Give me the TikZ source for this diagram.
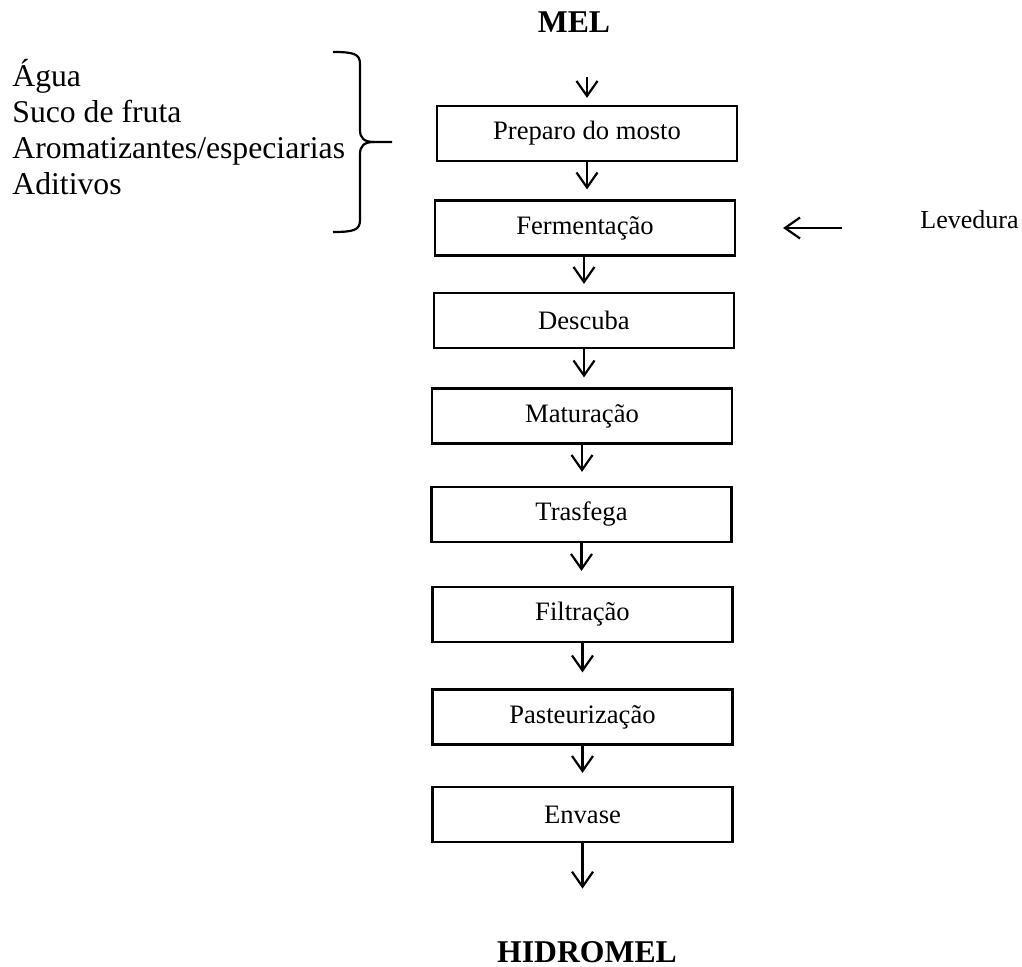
\documentclass[tikz,border=0pt]{standalone}
\usepackage{fontspec}
\setmainfont{Liberation Serif}
\usetikzlibrary{arrows.meta}
\tikzset{
  stepbox/.style={draw, line width=1.1pt, minimum width=150pt, minimum height=27.5pt, inner sep=0pt, font=\fontsize{13.3pt}{16pt}\selectfont},
  bigtxt/.style={inner sep=0pt, font=\fontsize{15.85pt}{18pt}\selectfont},
  bigbold/.style={inner sep=0pt, font=\fontsize{15.85pt}{18pt}\selectfont\bfseries},
  arr/.style={line width=1.1pt, -{Straight Barb[length=7.5pt,width=10.5pt,line width=1.1pt]}},
  bracel/.style={line width=1.1pt}
}
\begin{document}
\begin{tikzpicture}[x=0.5pt,y=-0.5pt]
\useasboundingbox (0,0) rectangle (1022,967);
\node[bigbold, anchor=base] (mel) at (574,33) {MEL};
\node[bigbold, anchor=base] (hid) at (587,962) {HIDROMEL};
\node[stepbox] (prep) at (587,133.5) {Preparo do mosto};
\node[stepbox] (ferm) at (585,228) {Fermentação};
\node[stepbox] (desc) at (584,320.5) {Descuba};
\node[stepbox] (mat) at (582,416) {Maturação};
\node[stepbox] (tras) at (581.5,514.5) {Trasfega};
\node[stepbox] (filt) at (582.5,614.5) {Filtração};
\node[stepbox] (past) at (582.5,717) {Pasteurização};
\node[stepbox] (env) at (582.5,814.5) {Envase};
\node[inner sep=0pt, anchor=base west, font=\fontsize{13pt}{16pt}\selectfont] (lev) at (920,229) {Levedura};
\node[bigtxt, anchor=base west, align=left] (ing) at (12,195) {Água\\Suco de fruta\\Aromatizantes/especiarias\\Aditivos};
% brace
\draw[bracel] (333,52) .. controls (354,52) and (360,54) .. (360,64) -- (360,130) .. controls (360,138) and (364,142) .. (374,142) -- (392,142);
\draw[bracel] (333,232) .. controls (354,232) and (360,230) .. (360,220) -- (360,154) .. controls (360,146) and (364,142) .. (374,142);
% arrows
\draw[arr, shorten <=22pt, shorten >=3.5pt] (prep.north |- mel.south) -- (prep.north);
\draw[arr, shorten >=5pt] (prep.south) -- (prep.south |- ferm.north);
\draw[arr, shorten >=4pt] (desc.north |- ferm.south) -- (desc.north);
\draw[arr, shorten >=5pt] (desc.south) -- (desc.south |- mat.north);
\draw[arr, shorten >=7pt] (mat.south) -- (mat.south |- tras.north);
\draw[arr, shorten >=7.5pt] (tras.south) -- (tras.south |- filt.north);
\draw[arr, shorten >=8pt] (filt.south) -- (filt.south |- past.north);
\draw[arr, shorten >=6.5pt] (past.south) -- (past.south |- env.north);
\draw[arr, shorten >=26pt] (env.south) -- (env.south |- hid.north);
\coordinate (levsrc) at (842,228);
\draw[arr, shorten >=23.5pt] (levsrc) -- (ferm.east |- levsrc);
\end{tikzpicture}
\end{document}
